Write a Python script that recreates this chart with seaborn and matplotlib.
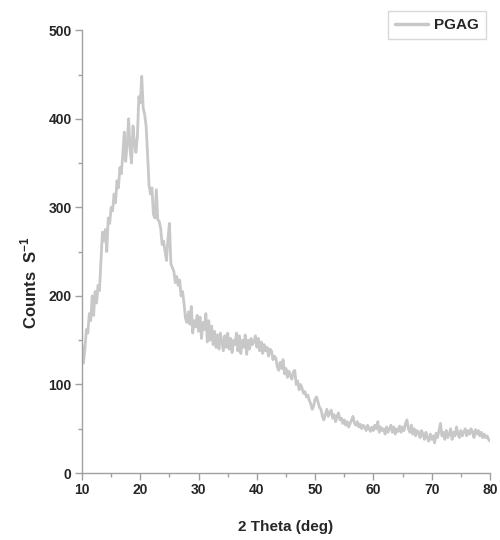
import numpy as np
import pandas as pd
import matplotlib
matplotlib.use("Agg")
import matplotlib.pyplot as plt
from matplotlib.ticker import MultipleLocator
import seaborn as sns

# Diffraction intensity (counts/s), sampled every 0.25 deg from 10 to 80 deg 2-theta
counts = [
    145, 124, 140, 162, 158, 180, 172, 200,   # 10-11.75
    178, 205, 192, 212, 206, 238, 272, 262,   # 12-13.75
    275, 250, 288, 282, 300, 296, 315, 305,   # 14
    330, 322, 345, 338, 360, 385, 352, 372,   # 16
    400, 365, 350, 392, 372, 362, 380, 425,   # 18
    418, 448, 412, 405, 392, 360, 325, 315,   # 20
    322, 292, 288, 320, 286, 284, 276, 258,   # 22
    262, 250, 240, 265, 282, 236, 232, 228,   # 24
    215, 222, 212, 218, 200, 205, 192, 175,   # 26
    170, 182, 168, 188, 158, 172, 165, 178,   # 28
    160, 176, 152, 170, 162, 180, 148, 172,   # 30
    150, 166, 145, 160, 142, 156, 140, 158,   # 32
    148, 138, 155, 142, 158, 140, 152, 136,   # 34
    150, 145, 158, 138, 155, 135, 150, 142,   # 36
    156, 134, 150, 140, 152, 145, 148, 155,   # 38
    142, 152, 138, 148, 135, 145, 138, 142,   # 40
    132, 140, 138, 128, 132, 130, 120, 116,   # 42
    125, 118, 128, 112, 118, 108, 115, 110,   # 44
    106, 114, 116, 100, 104, 94, 100, 96,     # 46
    90, 92, 86, 88, 82, 78, 72, 76,           # 48
    84, 86, 80, 74, 72, 64, 60, 66,           # 50
    72, 64, 68, 71, 62, 66, 58, 64,           # 52
    68, 60, 62, 56, 60, 54, 58, 52,           # 54
    56, 60, 64, 56, 54, 58, 52, 55,           # 56
    50, 54, 52, 48, 54, 50, 47, 52,           # 58
    48, 54, 50, 58, 46, 52, 48, 50,           # 60
    44, 52, 46, 50, 54, 46, 52, 44,           # 62
    50, 47, 53, 46, 52, 48, 56, 60,           # 64
    50, 46, 54, 44, 50, 42, 48, 46,           # 66
    40, 48, 44, 38, 46, 40, 36, 44,           # 68
    38, 42, 34, 45, 40, 48, 56, 42,           # 70
    46, 38, 48, 40, 44, 50, 38, 46,           # 72
    42, 52, 44, 40, 48, 42, 46, 50,           # 74
    42, 48, 44, 50, 46, 40, 49, 44,           # 76
    48, 42, 46, 40, 44, 40, 42, 38,           # 78
    36,                                       # 80
]
two_theta = 10 + 0.25 * np.arange(len(counts))

x_ticks = [10, 20, 30, 40, 50, 60, 70, 80]
y_ticks = [0, 100, 200, 300, 400, 500]
series_name = "PGAG"

df = pd.DataFrame({"two_theta": two_theta, "counts": counts, "sample": series_name})

sns.set_style("ticks")
plt.rcParams["font.family"] = ["Liberation Sans", "DejaVu Sans"]
plt.rcParams["mathtext.fontset"] = "custom"
plt.rcParams["mathtext.bf"] = "Liberation Sans:bold"
plt.rcParams["mathtext.rm"] = "Liberation Sans"

fig = plt.figure(figsize=(5.0, 5.4), dpi=100)
ax = fig.add_axes([0.164, 0.124, 0.816, 0.820])

sns.lineplot(data=df, x="two_theta", y="counts", hue="sample", sort=False,
             palette=["#c8c8c8"], linewidth=2.0, ax=ax, estimator=None)

ax.set_xlim(10, 80)
ax.set_ylim(0, 500)
ax.set_xticks(x_ticks)
ax.set_yticks(y_ticks)
ax.xaxis.set_minor_locator(MultipleLocator(5))
ax.yaxis.set_minor_locator(MultipleLocator(50))

spine_color = "#a0a0a0"
for side in ("top", "right"):
    ax.spines[side].set_visible(False)
for side in ("left", "bottom"):
    ax.spines[side].set_color(spine_color)
    ax.spines[side].set_linewidth(1.0)

ax.tick_params(axis="both", which="major", direction="out", length=5, width=1.0,
               color=spine_color, labelsize=10, pad=2.5)
ax.tick_params(axis="both", which="minor", direction="out", length=3, width=1.0,
               color=spine_color)
for lbl in ax.get_xticklabels() + ax.get_yticklabels():
    lbl.set_fontweight("bold")

ax.set_xlabel("2 Theta (deg)", fontsize=11, fontweight="bold")
ax.xaxis.set_label_coords(0.5, -0.105)
ax.set_ylabel(r"Counts  S$^{\mathbf{-1}}$", fontsize=12, fontweight="bold")
ax.yaxis.set_label_coords(-0.105, 0.43)

leg = ax.legend(loc="upper right", bbox_to_anchor=(0.971, 0.979),
                bbox_transform=fig.transFigure, borderaxespad=0.0,
                frameon=True, fancybox=False,
                handlelength=2.2, borderpad=0.45, handletextpad=0.35,
                prop={"weight": "bold", "size": 11})
leg.get_frame().set_edgecolor("#cfcfcf")
leg.get_frame().set_linewidth(1.0)
for line in leg.get_lines():
    line.set_linewidth(2.5)

fig.savefig("out.png", dpi=100, facecolor="white")
